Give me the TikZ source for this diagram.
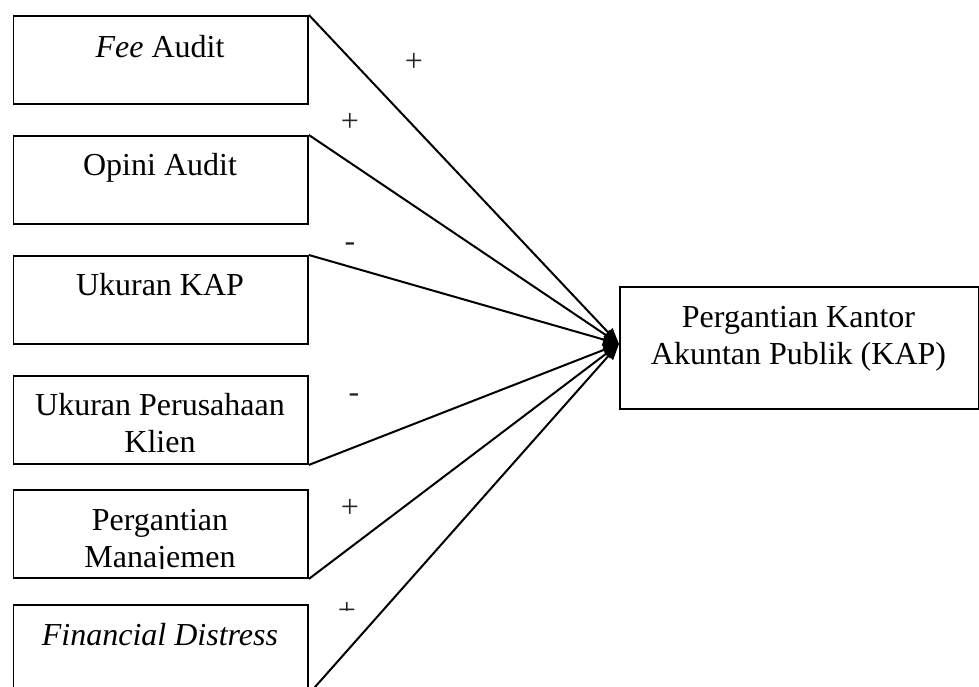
\documentclass[tikz,border=0pt]{standalone}
\usepackage{fontspec}
\setmainfont{Liberation Serif}
\usetikzlibrary{arrows.meta,calc}
\begin{document}
\begin{tikzpicture}[x=1pt,y=-1pt,
  box/.style={draw,line width=1.9pt,minimum width=294.5pt,minimum height=88pt,anchor=north west,inner sep=0pt},
  txt/.style={anchor=base,align=center,font=\fontsize{32}{37}\selectfont,inner sep=0pt},
  sign/.style={anchor=base,font=\fontsize{32}{37}\selectfont,inner sep=0pt,text=black!85},
  link/.style={line width=2pt,-{Triangle[length=16pt,width=12pt]}}]
\useasboundingbox (0,0) rectangle (979,686);
\clip (0,0) rectangle (979,686);
% left boxes
\node[box] (b1) at (12.5,15) {};
\node[box] (b2) at (12.5,135) {};
\node[box] (b3) at (12.5,255) {};
\node[box] (b4) at (12.5,375) {};
\node[box] (b5) at (12.5,489) {};
\node[box] (b6) at (12.5,604) {};
% right box
\node[box,minimum width=358.5pt,minimum height=122pt] (k) at (619,286) {};
% texts (base anchor = baseline of the last line)
\node[txt] (t1) at (160,57) {\textit{Fee} Audit};
\node[txt] (t2) at (160,175) {Opini Audit};
\node[txt] (t3) at (160,295) {Ukuran KAP};
\node[txt] (t4) at (160,452) {Ukuran Perusahaan\\Klien};
\begin{scope}
  \clip (12.5,489) rectangle (307,568);
  \node[txt] (t5) at (160,567) {Pergantian\\Manajemen};
\end{scope}
\node[txt] (t6) at (160,645) {\textit{Financial Distress}};
\node[txt] (tk) at (798.5,364) {Pergantian Kantor\\Akuntan Publik (KAP)};
% connectors
\coordinate (tip) at ($(k.west)+(0,-4)$);
\draw[link] (b1.north east) -- (tip);
\draw[link] (b2.north east) -- (tip);
\draw[link] (b3.north east) -- (tip);
\draw[link] (b4.south east) -- (tip);
\draw[link] (b5.south east) -- (tip);
\draw[link] (b6.south east) -- (tip);
% signs
\node[sign] (s1) at (414,71) {+};
\node[sign] (s2) at (350,131) {+};
\node[sign] (s3) at (350,251) {-};
\node[sign] (s4) at (354,402) {-};
\node[sign] (s5) at (350,517) {+};
\begin{scope}
  \clip (330,590) rectangle (370,610.5);
  \node[sign] (s6) at (347,620) {+};
\end{scope}
\end{tikzpicture}
\end{document}
